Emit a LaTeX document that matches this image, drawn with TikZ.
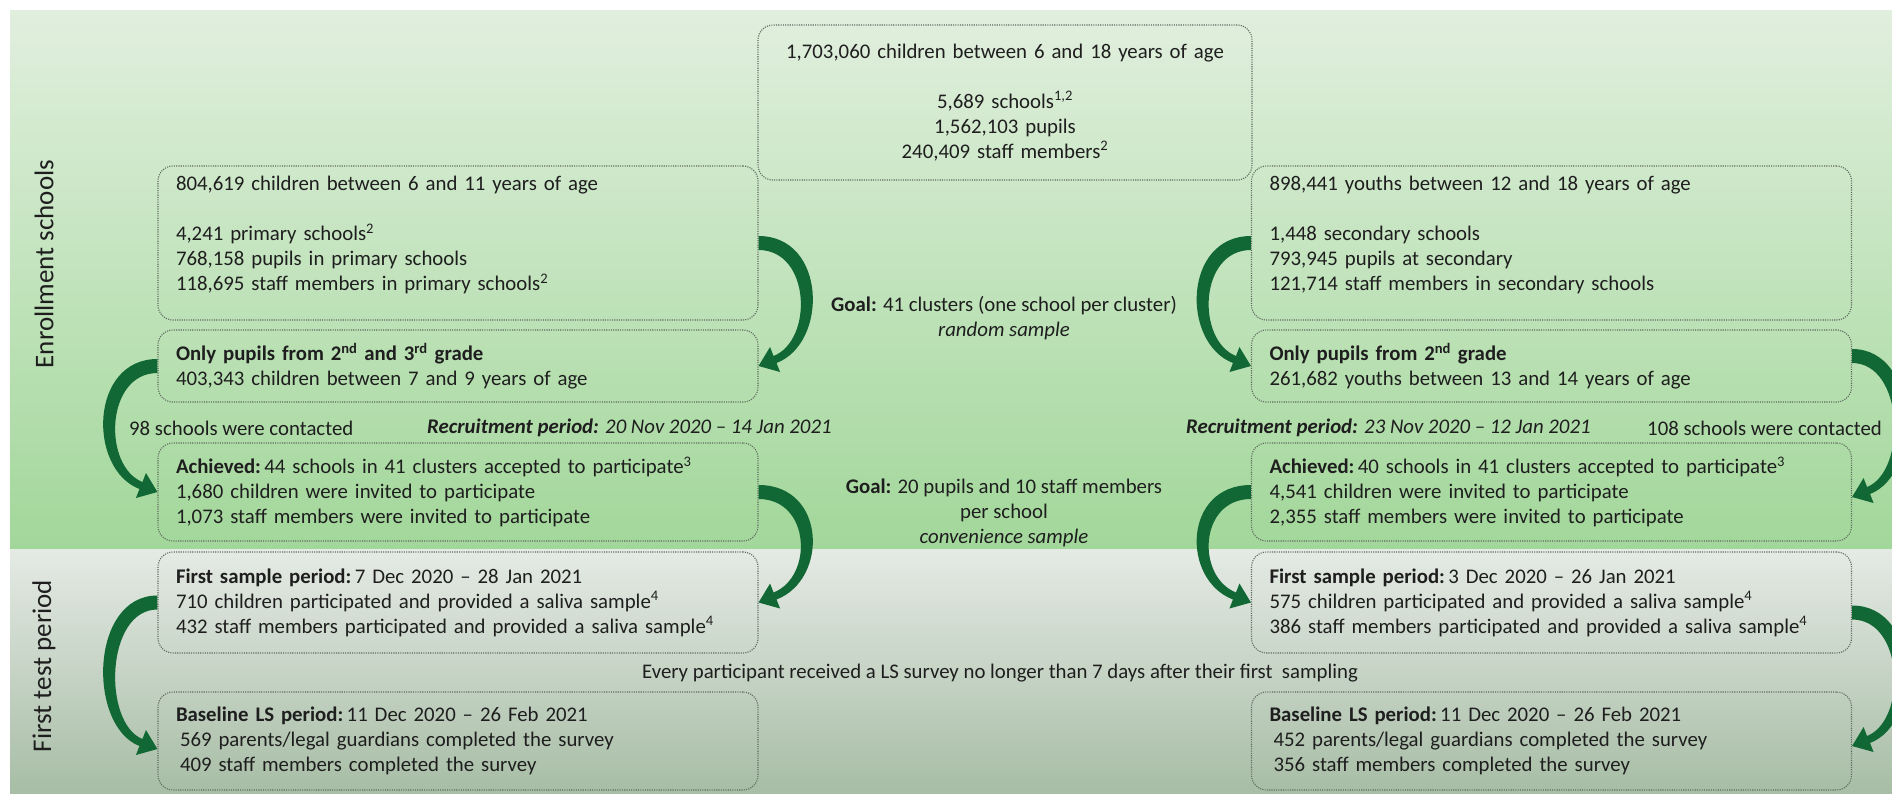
\documentclass[tikz,border=0pt]{standalone}
\usepackage{fontspec}
\setmainfont{Carlito}
\usetikzlibrary{calc}
\definecolor{bandtop}{RGB}{225,239,222}
\definecolor{bandbot}{RGB}{162,215,154}
\definecolor{lowtop}{RGB}{229,234,229}
\definecolor{lowbot}{RGB}{167,189,165}
\definecolor{arrowgreen}{RGB}{18,104,52}
\definecolor{boxline}{RGB}{95,105,95}
\definecolor{txt}{RGB}{30,30,30}
\newcommand\bodyfont{\fontsize{20.8}{25}\selectfont}
\newcommand\bendarrow[3]{%
  \fill[arrowgreen] let \p1=(#1), \p2=(#2), \n1={#3} in
  (\x1,{\y1+7pt}) .. controls ({\x1+\n1*68pt},{\y1+7pt}) and ({\x2+\n1*70pt},{\y2+23pt}) .. ({\x2+\n1*18pt},{\y2+3pt})
  -- ({\x2+\n1*21.5pt},{\y2-6pt}) -- (\x2,\y2) -- ({\x2+\n1*11.5pt},{\y2+19pt}) -- ({\x2+\n1*15pt},{\y2+10pt})
  .. controls ({\x2+\n1*55pt},{\y2+26pt}) and ({\x1+\n1*52pt},{\y1-7pt}) .. (\x1,{\y1-7pt}) -- cycle;}
\tikzset{
  box/.style={rectangle, rounded corners=15pt, draw=boxline, dash pattern=on 1.1pt off 1.2pt,
    line width=1.1pt, inner xsep=18pt, inner ysep=0pt, text width=564pt, align=left,
    font=\bodyfont, text=txt},
  topbox/.style={box, text width=458pt, align=center},
  note/.style={font=\bodyfont, text=txt, inner sep=0pt, align=center},
  sidelabel/.style={rotate=90, font=\fontsize{27}{30}\selectfont, text=txt, inner sep=0pt}
}
\begin{document}
\begin{tikzpicture}[x=1pt,y=-1pt]
\useasboundingbox (0,0) rectangle (1892,793);
\fill[white] (0,0) rectangle (1892,793);
\shade[top color=bandtop, bottom color=bandbot] (10,10) rectangle (1892,549);
\shade[top color=lowtop, bottom color=lowbot] (10,549) rectangle (1892,793);

\node[sidelabel] (lab1) at (44,264) {Enrollment schools};
\node[sidelabel] (lab2) at (44,666) {First test period};

\node[topbox, minimum height=155pt] (T) at (1005,102.5) {1,703,060 children between 6 and 18 years of age\\[25pt]
5,689 schools\textsuperscript{1,2}\\ 1,562,103 pupils\\ 240,409 staff members\textsuperscript{2}};

\node[box, minimum height=154pt] (L1) at (458,243) {804,619 children between 6 and 11 years of age\\[25pt]
4,241 primary schools\textsuperscript{2}\\ 768,158 pupils in primary schools\\ 118,695 staff members in primary schools\textsuperscript{2}\\[-6pt]\mbox{}};
\node[box, minimum height=72pt] (L2) at (458,366) {\textbf{Only pupils from 2\textsuperscript{nd} and 3\textsuperscript{rd} grade}\\ 403,343 children between 7 and 9 years of age};
\node[box, minimum height=98pt] (L3) at (458,492) {\textbf{Achieved:}\,44 schools in 41 clusters accepted to participate\textsuperscript{3}\\ 1,680 children were invited to participate\\ 1,073 staff members were invited to participate};
\node[box, minimum height=101pt] (L4) at (458,602.5) {\textbf{First sample period:}\,7 Dec 2020 – 28 Jan 2021\\ 710 children participated and provided a saliva sample\textsuperscript{4}\\ 432 staff members participated and provided a saliva sample\textsuperscript{4}};
\node[box, minimum height=98pt] (L5) at (458,741) {\textbf{Baseline LS period:}\,11 Dec 2020 – 26 Feb 2021\\ \hspace*{4pt}569 parents/legal guardians completed the survey\\ \hspace*{4pt}409 staff members completed the survey};

\node[box, minimum height=154pt] (R1) at (1551.5,243) {898,441 youths between 12 and 18 years of age\\[25pt]
1,448 secondary schools\\ 793,945 pupils at secondary\\ 121,714 staff members in secondary schools\\[-6pt]\mbox{}};
\node[box, minimum height=72pt] (R2) at (1551.5,366) {\textbf{Only pupils from 2\textsuperscript{nd} grade}\\ 261,682 youths between 13 and 14 years of age};
\node[box, minimum height=98pt] (R3) at (1551.5,492) {\textbf{Achieved:}\,40 schools in 41 clusters accepted to participate\textsuperscript{3}\\ 4,541 children were invited to participate\\ 2,355 staff members were invited to participate};
\node[box, minimum height=101pt] (R4) at (1551.5,602.5) {\textbf{First sample period:}\,3 Dec 2020 – 26 Jan 2021\\ 575 children participated and provided a saliva sample\textsuperscript{4}\\ 386 staff members participated and provided a saliva sample\textsuperscript{4}};
\node[box, minimum height=98pt] (R5) at (1551.5,741) {\textbf{Baseline LS period:}\,11 Dec 2020 – 26 Feb 2021\\ \hspace*{4pt}452 parents/legal guardians completed the survey\\ \hspace*{4pt}356 staff members completed the survey};

\node[note] (g1) at (1004,318) {\textbf{Goal:} 41 clusters (one school per cluster)\\ \textit{random sample}};
\node[note] (g2) at (1004,513) {\textbf{Goal:} 20 pupils and 10 staff members\\ per school\\ \textit{convenience sample}};
\node[note] (ev) at (1000,673) {Every participant received a LS survey no longer than 7 days after their first\ \ sampling};
\node[note, anchor=west] (c98) at (129,428) {98 schools were contacted};
\node[note, anchor=west] (rp1) at (427,428) {\textbf{\textit{Recruitment period:}} \textit{20 Nov 2020 – 14 Jan 2021}};
\node[note, anchor=west] (rp2) at (1186,428) {\textbf{\textit{Recruitment period:}} \textit{23 Nov 2020 – 12 Jan 2021}};
\node[note, anchor=west] (c108) at (1647,428) {108 schools were contacted};

\bendarrow{L1.east}{L2.east}{1}
\bendarrow{L3.east}{L4.east}{1}
\bendarrow{L2.west}{L3.west}{-1}
\bendarrow{L4.west}{$(L5.west)+(0,8)$}{-1}
\bendarrow{R1.west}{R2.west}{-1}
\bendarrow{R3.west}{R4.west}{-1}
\bendarrow{$(R2.east)+(0,-10)$}{$(R3.east)+(0,5)$}{1}
\bendarrow{$(R4.east)+(0,10)$}{$(R5.east)+(0,5)$}{1}
\end{tikzpicture}
\end{document}
